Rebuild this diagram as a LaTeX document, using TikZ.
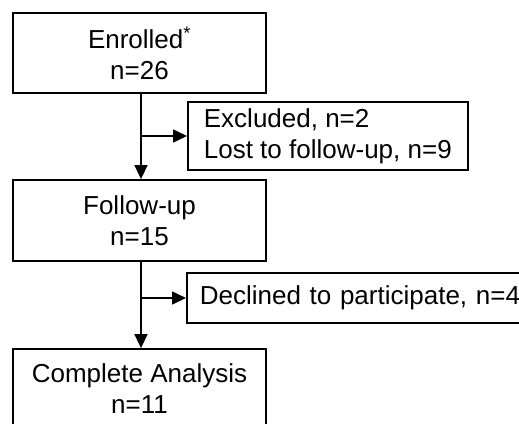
\documentclass[tikz,border=0pt]{standalone}
\usepackage{fontspec}
\setmainfont{Liberation Sans}
\usetikzlibrary{arrows.meta}

\begin{document}
\begin{tikzpicture}[x=1pt,y=-1pt,
            stagebox/.style={draw,line width=1.8pt,minimum width=253pt,minimum height=80pt,align=center,inner sep=0pt},
            sidebox/.style={draw,line width=1.8pt,align=left,inner xsep=16pt,inner ysep=0pt,anchor=west},
            flow/.style={line width=1.6pt,-{Triangle[length=14pt,width=13pt]}}]
            \clip (0,0) rectangle (519,423);
            \fontsize{26}{31}\selectfont
            \node [stagebox] (enrolled) at (139.5,53) {Enrolled\textsuperscript{*}\\n=26};
            \node [sidebox,minimum height=68pt] (excluded) at (187,136) {Excluded, n=2\\Lost to follow-up, n=9};
            \node [stagebox,minimum height=81pt] (followup) at (139.5,220.5) {Follow-up\\n=15};
            \node [sidebox,minimum height=50pt,inner xsep=13pt,text width=330pt] (declined) at (186,298) {Declined to participate, n=4};
            \node [stagebox] (complete) at (139.5,389) {Complete Analysis\\n=11};
            \draw [flow] ([xshift=1.5pt]enrolled.south) -- ([xshift=1.5pt]followup.north);
            \draw [flow] ([xshift=1.5pt]enrolled.south |- excluded.west) -- (excluded.west);
            \draw [flow] ([xshift=1.5pt]followup.south) -- ([xshift=1.5pt]complete.north);
            \draw [flow] ([xshift=1.5pt]followup.south |- declined.west) -- (declined.west);
        \end{tikzpicture}
\end{document}
